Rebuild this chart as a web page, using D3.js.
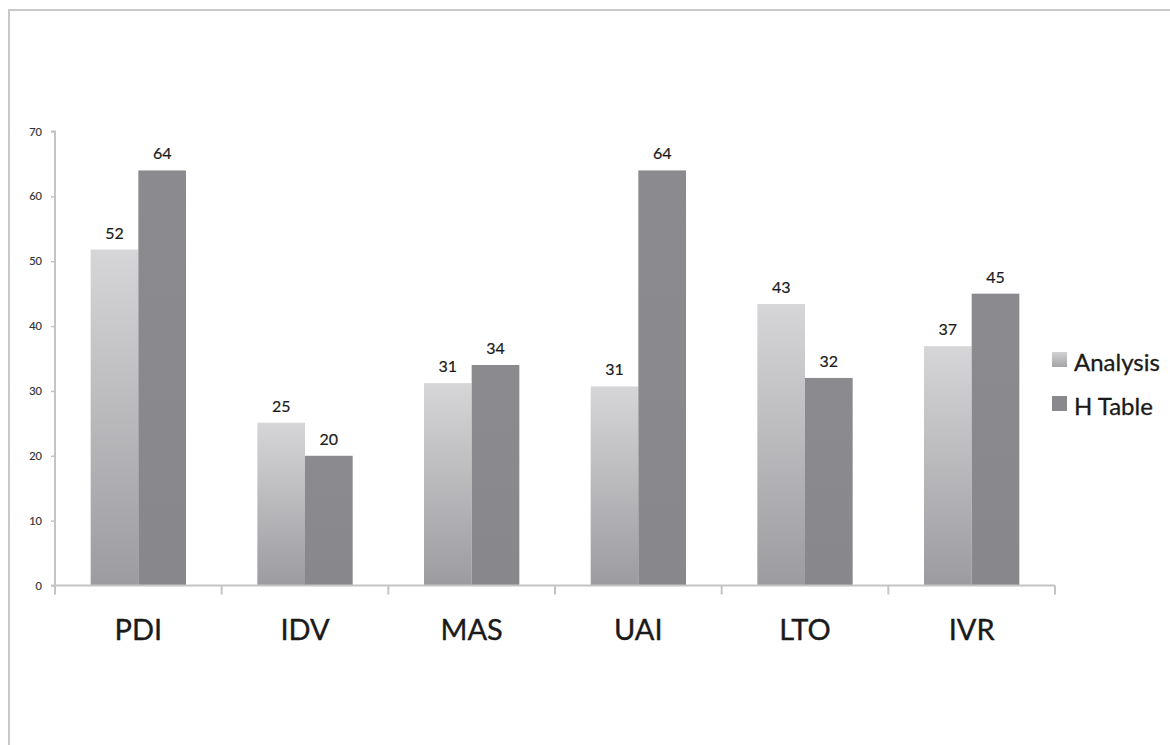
<!DOCTYPE html>
<html><head><meta charset="utf-8">
<script src="https://cdn.jsdelivr.net/npm/d3@7"></script>
<style>html,body{margin:0;padding:0;background:#fff;}svg{display:block;}</style>
</head><body>
<svg id="chart" width="1170" height="745"></svg>
<script>
const categories = ["PDI", "IDV", "MAS", "UAI", "LTO", "IVR"];
const seriesNames = ["Analysis", "H Table"];
const analysisValues = [51.8, 25.1, 31.2, 30.7, 43.4, 36.9];
const hTableValues = [64, 20, 34, 64, 32, 45];
const yTicks = [0, 10, 20, 30, 40, 50, 60, 70];

(function () {
const svg = d3.select("#chart");
const font = "Lato, 'Open Sans', sans-serif";

// outer frame
svg.append("rect").attr("x", 9).attr("y", 10).attr("width", 1200).attr("height", 800)
  .attr("fill", "none").attr("stroke", "#c9c9c9").attr("stroke-width", 2);

const pLeft = 55, pRight = 1055, pTop = 131.5, pBottom = 585.5;
const y = d3.scaleLinear().domain([0, 70]).range([pBottom, pTop]);
const x0 = d3.scaleBand().domain(categories).range([pLeft, pRight]).paddingInner(0.428).paddingOuter(0.214);
const x1 = d3.scaleBand().domain(seriesNames).range([0, x0.bandwidth()]);

const defs = svg.append("defs");
const g1 = defs.append("linearGradient").attr("id", "gA").attr("x1", 0).attr("y1", 0).attr("x2", 0).attr("y2", 1);
g1.append("stop").attr("offset", "0%").attr("stop-color", "#d6d6d8");
g1.append("stop").attr("offset", "100%").attr("stop-color", "#9c9ca0");
const g2 = defs.append("linearGradient").attr("id", "gH").attr("x1", 0).attr("y1", 0).attr("x2", 0).attr("y2", 1);
g2.append("stop").attr("offset", "0%").attr("stop-color", "#8b8b8f");
g2.append("stop").attr("offset", "100%").attr("stop-color", "#88888c");
const lg1 = defs.append("linearGradient").attr("id", "lgA").attr("x1", 0).attr("y1", 0).attr("x2", 0).attr("y2", 1);
lg1.append("stop").attr("offset", "0%").attr("stop-color", "#d2d2d4");
lg1.append("stop").attr("offset", "100%").attr("stop-color", "#a4a4a8");

const fills = {"Analysis": "url(#gA)", "H Table": "url(#gH)"};
const data = categories.map((c, i) => ({cat: c, vals: [
  {s: "Analysis", v: analysisValues[i]}, {s: "H Table", v: hTableValues[i]}]}));

const heavy = (sel, w) => sel.attr("stroke", "#1a1a1a").attr("stroke-width", w).attr("paint-order", "stroke");

// y axis
const yAxis = svg.append("g").attr("transform", `translate(${pLeft},0)`)
  .call(d3.axisLeft(y).tickValues(yTicks).tickSize(4).tickPadding(9).tickFormat(d3.format("d")));
yAxis.select(".domain").attr("stroke", "#c4c4c4").attr("stroke-width", 2).attr("d", `M-4,${pTop}H0V${pBottom}H-4`);
yAxis.selectAll(".tick line").attr("stroke", "#c4c4c4").attr("stroke-width", 1.5);
yAxis.selectAll(".tick text").attr("font-family", font).attr("font-size", 11).attr("fill", "#333")
  .attr("stroke", "#333").attr("stroke-width", 0.2);

// bars
const groups = svg.append("g").selectAll("g").data(data).join("g")
  .attr("transform", d => `translate(${x0(d.cat)},0)`);
groups.selectAll("rect").data(d => d.vals).join("rect")
  .attr("x", d => x1(d.s)).attr("width", x1.bandwidth())
  .attr("y", d => y(d.v)).attr("height", d => y(0) - y(d.v))
  .attr("fill", d => fills[d.s]);
groups.selectAll("text").data(d => d.vals).join("text")
  .attr("x", d => x1(d.s) + x1.bandwidth() / 2).attr("y", d => y(d.v) - 11)
  .attr("text-anchor", "middle").attr("font-family", font).attr("font-size", 16)
  .attr("fill", "#1a1a1a").text(d => d3.format(".0f")(d.v))
  .call(heavy, 0.2);

// x axis
const xa = svg.append("g");
xa.append("line").attr("x1", pLeft).attr("x2", pRight).attr("y1", pBottom).attr("y2", pBottom)
  .attr("stroke", "#c4c4c4").attr("stroke-width", 2);
const bounds = categories.map(c => x0(c) - x0.step() * x0.paddingInner() / 2).concat([pRight]);
xa.selectAll("line.t").data(bounds).join("line").attr("class", "t")
  .attr("x1", d => d).attr("x2", d => d).attr("y1", pBottom).attr("y2", pBottom + 9)
  .attr("stroke", "#c4c4c4").attr("stroke-width", 2);
xa.selectAll("text").data(categories).join("text")
  .attr("x", d => x0(d) + x0.bandwidth() / 2).attr("y", 640)
  .attr("text-anchor", "middle").attr("font-family", font).attr("font-size", 29)
  .attr("fill", "#1a1a1a").text(d => d)
  .call(heavy, 0.35);

// legend
const legend = svg.append("g").selectAll("g").data(seriesNames).join("g")
  .attr("transform", (d, i) => `translate(1052,${352 + i * 44})`);
legend.append("rect").attr("width", 15).attr("height", 15)
  .attr("fill", (d, i) => i === 0 ? "url(#lgA)" : "#8a8a8e");
legend.append("text").attr("x", 22).attr("y", 19).attr("font-family", font).attr("font-size", 24)
  .attr("fill", "#1a1a1a").text(d => d)
  .call(heavy, 0.3);
})();
</script>
</body></html>
